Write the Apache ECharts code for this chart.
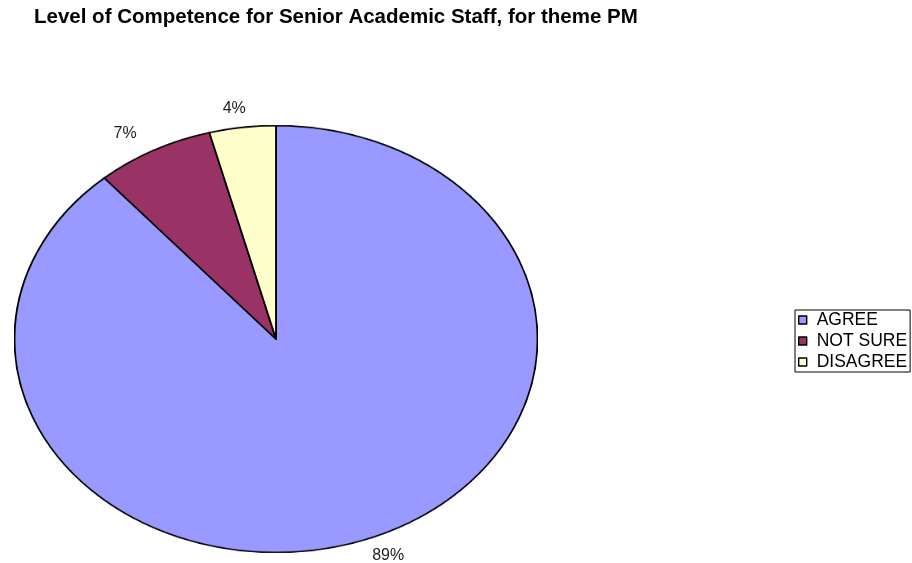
<!DOCTYPE html>
<html>
<head>
<meta charset="utf-8">
<script src="https://cdn.jsdelivr.net/npm/echarts@6/dist/echarts.min.js"></script>
<style>
  html, body { margin: 0; padding: 0; background: #fff; }
  #wrap { position: relative; width: 912px; height: 563px; overflow: hidden; }
  #pie { position: absolute; left: 13.5px; top: 76.5px; width: 524px; height: 524px;
         transform: scaleY(0.8164); transform-origin: 262px 262px; }
  #overlay { position: absolute; left: 0; top: 0; width: 912px; height: 563px; }
</style>
</head>
<body>
<div id="wrap">
  <div id="pie"></div>
  <div id="overlay"></div>
</div>
<script>
const titleText = 'Level of Competence for Senior Academic Staff, for theme PM';
const categories = ['AGREE', 'NOT SURE', 'DISAGREE'];
const values = [88.6, 7.3, 4.1];
const colors = ['#9999FF', '#993366', '#FFFFCC'];

const seriesData = categories.map((c, i) => ({ name: c, value: values[i], itemStyle: { color: colors[i] } }));

// Pie (rendered circular, stretched into the reference's ellipse via CSS)
const pieChart = echarts.init(document.getElementById('pie'), null, { renderer: 'canvas' });
pieChart.setOption({
  animation: false,
  series: [{
    type: 'pie',
    center: [262, 262],
    radius: [0, 261.5],
    startAngle: 90,
    clockwise: true,
    data: seriesData,
    label: { show: false },
    labelLine: { show: false },
    itemStyle: { borderColor: '#000', borderWidth: 1.8 },
    emphasis: { disabled: true },
    silent: true
  }]
});

// Overlay: title, legend, percentage labels placed on the ellipse from the data
const cx = 275.5, cy = 338.5, rx = 261.5, ry = 213.5;
const total = values.reduce((a, b) => a + b, 0);
const labels = [];
let acc = 0;
values.forEach((v, i) => {
  const mid = (acc + v / 2) / total;     // fraction from start (clockwise from top)
  acc += v;
  const ang = Math.PI / 2 - mid * 2 * Math.PI;
  const x = cx + (rx + 60) * Math.cos(ang);
  const y = cy - (ry + 18.5) * Math.sin(ang);
  labels.push({
    type: 'text', x: x, y: y,
    style: {
      text: Math.round(v / total * 100) + '%',
      fill: '#222', font: '16px "Liberation Sans", Arial, sans-serif',
      align: 'center', verticalAlign: 'middle'
    }
  });
});

const overlay = echarts.init(document.getElementById('overlay'));
overlay.setOption({
  animation: false,
  title: {
    text: titleText, left: 34, top: 7, padding: 0,
    textStyle: { fontFamily: '"Liberation Sans", Arial, sans-serif', fontWeight: 'bold', fontSize: 20.5, color: '#000' }
  },
  legend: {
    orient: 'vertical', left: 795, top: 310,
    padding: [1, 3, 1, 3],
    borderColor: '#000', borderWidth: 1,
    itemGap: 3, itemWidth: 8, itemHeight: 8,
    icon: 'rect',
    itemStyle: { borderColor: '#000', borderWidth: 1.4 },
    textStyle: { fontFamily: '"Liberation Sans", Arial, sans-serif', fontSize: 17.5, color: '#000', padding: [0, 0, 0, 5] },
    data: categories,
    selectedMode: false
  },
  series: [{
    type: 'pie', radius: [0, 0], center: [-100, -100], silent: true,
    label: { show: false }, labelLine: { show: false },
    data: seriesData
  }],
  graphic: labels
});
</script>
</body>
</html>
